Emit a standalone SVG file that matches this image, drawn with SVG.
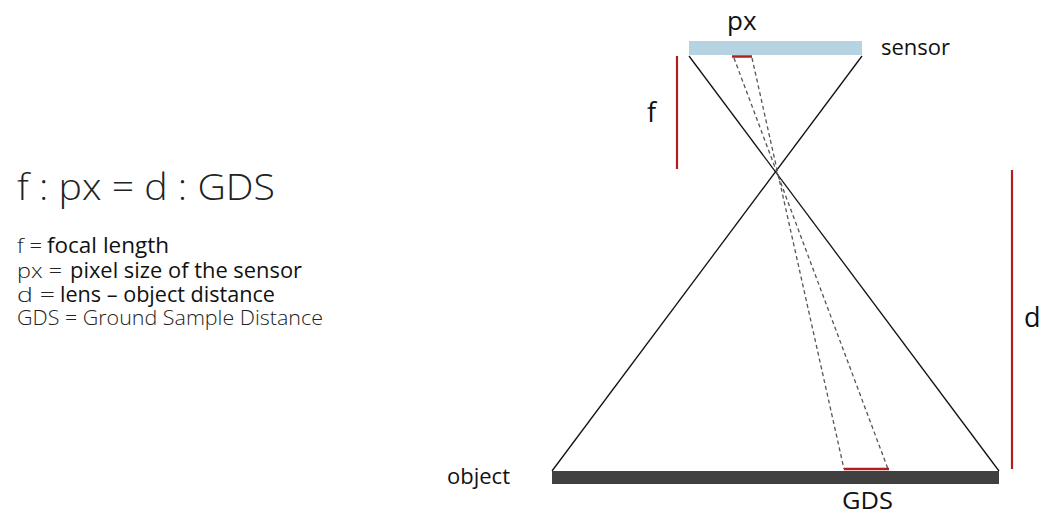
<svg xmlns="http://www.w3.org/2000/svg" width="1051" height="514" viewBox="0 0 1051 514">
<style>
text{font-family:"Open Sans","Liberation Sans",sans-serif;}
.light{font-weight:300;fill:#222;}
.reg{font-weight:400;fill:#111;}
.ray{stroke:#111;stroke-width:1.3;fill:none;}
.dash{stroke:#555;stroke-width:1.3;stroke-dasharray:4 3;fill:none;}
.red{stroke:#b01e1e;fill:none;}
</style>
<rect width="1051" height="514" fill="#fff"/>
<g id="formula">
<text class="light" x="17" y="200" font-size="37" textLength="258" lengthAdjust="spacingAndGlyphs">f : px = d : GDS</text>
</g>
<g id="legend">
<text class="light" x="17" y="253" font-size="20" textLength="25" lengthAdjust="spacingAndGlyphs">f =</text>
<text class="reg" x="47" y="253" font-size="21" textLength="122" lengthAdjust="spacingAndGlyphs">focal length</text>
<text class="light" x="17" y="278" font-size="20" textLength="45" lengthAdjust="spacingAndGlyphs">px =</text>
<text class="reg" x="70" y="278" font-size="21" textLength="232" lengthAdjust="spacingAndGlyphs">pixel size of the sensor</text>
<text class="light" x="17" y="302" font-size="20" textLength="38" lengthAdjust="spacingAndGlyphs">d =</text>
<text class="reg" x="60" y="302" font-size="21" textLength="215" lengthAdjust="spacingAndGlyphs">lens – object distance</text>
<text class="light" x="17" y="325" font-size="20" textLength="306" lengthAdjust="spacingAndGlyphs">GDS = Ground Sample Distance</text>
</g>
<g id="connectors">
<line class="ray" x1="689" y1="56" x2="999" y2="471"/>
<line class="ray" x1="862" y1="56" x2="552" y2="471"/>
<line class="dash" x1="734" y1="58" x2="888" y2="469"/>
<line class="dash" x1="752" y1="58" x2="844" y2="469"/>
</g>
<g id="sensor">
<rect x="689" y="41" width="173" height="14" fill="#b5d3e1"/>
<line class="red" x1="732" y1="56.5" x2="752" y2="56.5" stroke-width="2.5"/>
<text class="reg" x="727" y="30" font-size="26">px</text>
<text class="reg" x="881" y="55" font-size="22">sensor</text>
</g>
<g id="object">
<rect x="552" y="471" width="447" height="13" fill="#404040"/>
<line class="red" x1="844" y1="469" x2="889" y2="469" stroke-width="2.5"/>
<text class="reg" x="447" y="484" font-size="22">object</text>
<text class="reg" x="842" y="509" font-size="24" textLength="51" lengthAdjust="spacingAndGlyphs">GDS</text>
</g>
<g id="focal">
<line class="red" x1="677" y1="56" x2="677" y2="169" stroke-width="2.2"/>
<text class="reg" x="647" y="122" font-size="27">f</text>
</g>
<g id="distance">
<line class="red" x1="1012" y1="170" x2="1012" y2="469" stroke-width="2.2"/>
<text class="reg" x="1024" y="327" font-size="27">d</text>
</g>
</svg>
